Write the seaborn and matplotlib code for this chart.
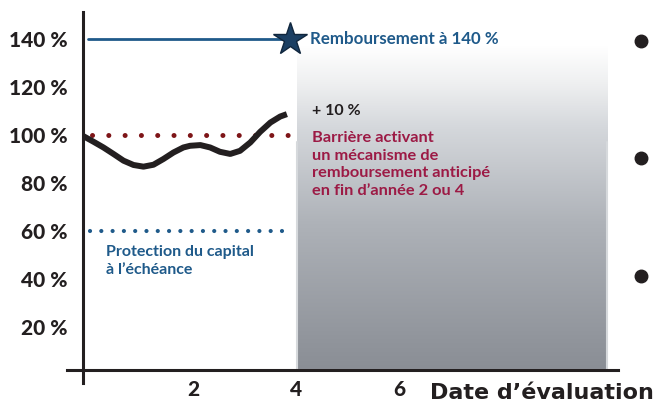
import numpy as np
import pandas as pd
import matplotlib
matplotlib.use("Agg")
import matplotlib.pyplot as plt
from matplotlib.colors import LinearSegmentedColormap
import seaborn as sns

# data
curve_x = [-0.13, 0.064, 0.258, 0.452, 0.647, 0.841, 1.035, 1.229, 1.423, 1.617, 1.81,
           1.94, 2.14, 2.33, 2.52, 2.72, 2.91, 3.11, 3.30, 3.50, 3.69, 3.82]
curve_y = [99.5, 97.2, 94.8, 92.1, 89.3, 87.5, 86.8, 87.6, 90.0, 92.7, 94.8,
           95.5, 95.8, 94.8, 93.0, 92.1, 93.4, 96.9, 101.3, 105.2, 107.7, 108.7]
barriers = {"remb": 140, "rappel": 100, "protection": 60}
dates = [2, 4, 6]
yticks = [20, 40, 60, 80, 100, 120, 140]
ytick_labels = ["20 %", "40 %", "60 %", "80 %", "100 %", "120 %", "140 %"]
zone_x = [4.02, 10.04]
zone_y = [1.8, 137]
bullet_y = [139.2, 90.5, 41.0]

sns.set_style("white")
plt.rcParams["font.family"] = ["Lato", "DejaVu Sans"]

BLUE = "#1f5a8a"
CRIMSON = "#9c1a45"
DOTRED = "#7e1518"
INK = "#231f20"

fig = plt.figure(figsize=(6.55, 4.05), dpi=100)
ax = fig.add_axes([67 / 655, (405 - 383.2) / 405, 551 / 655, 371.7 / 405])
ax.set_xlim(-0.45, 10.25)
ax.set_ylim(-3.5, 151.5)

# gradient zone (years after 4)
cmap = LinearSegmentedColormap.from_list(
    "zone", [(0, "#8a8e95"), (0.12, "#93979e"), (0.45, "#aeb2b8"),
             (0.75, "#d5d8dc"), (0.88, "#eeeff0"), (1.0, "#ffffff")])
grad = np.linspace(0, 1, 256).reshape(-1, 1)
ax.imshow(grad, extent=[zone_x[0], zone_x[1], zone_y[0], zone_y[1]], origin="lower",
          cmap=cmap, aspect="auto", zorder=0)
ax.plot([zone_x[0], zone_x[0], zone_x[1], zone_x[1]],
        [zone_y[1] - 40, zone_y[0], zone_y[0], zone_y[1] - 40],
        color="#d6d9dc", lw=1.5, zorder=1)

# barrier lines
ax.plot([-0.04, 3.8], [barriers["remb"]] * 2, color=BLUE, lw=2, zorder=2)
ax.plot([0.04, 3.9], [barriers["rappel"]] * 2, color=DOTRED, lw=3.6,
        linestyle=(0, (0.01, 3.25)), dash_capstyle="round", zorder=2)
ax.plot([0.0, 3.8], [barriers["protection"]] * 2, color=BLUE, lw=3.0,
        linestyle=(0, (0.01, 2.7)), dash_capstyle="round", zorder=2)

# underlying path
df = pd.DataFrame({"date": curve_x, "niveau": curve_y})
sns.lineplot(data=df, x="date", y="niveau", ax=ax, color=INK, lw=4.3,
             sort=False, solid_capstyle="butt", solid_joinstyle="round", zorder=3)

# star at the autocall level
ax.plot([3.88], [barriers["remb"]], marker="*", markersize=25, color="#1b3f63",
        markeredgecolor="#10263d", zorder=4, clip_on=False)

# bullets on the right
ax.plot([10.7] * len(bullet_y), bullet_y, "o", color=INK, markersize=9, clip_on=False)

# axes styling
for s in ["top", "right"]:
    ax.spines[s].set_visible(False)
ax.spines["left"].set_position(("data", -0.136))
ax.spines["bottom"].set_position(("data", 1.8))
for s in ["left", "bottom"]:
    ax.spines[s].set_linewidth(2.2)
    ax.spines[s].set_color(INK)

ax.set_yticks(yticks)
ax.set_yticklabels(ytick_labels)
ax.set_xticks(dates)
ax.set_xticklabels([str(d) for d in dates])
ax.tick_params(axis="y", direction="in", length=5, width=2, color=INK, pad=11,
               labelsize=15, labelcolor=INK)
ax.tick_params(axis="x", direction="inout", length=9, width=2, color=INK, pad=2,
               labelsize=15, labelcolor=INK)
for lab in ax.get_xticklabels() + ax.get_yticklabels():
    lab.set_fontweight("black")
ax.set_xlabel("")
ax.set_ylabel("")

# annotations
ax.text(4.27, 140, "Remboursement à 140 %", color=BLUE, fontsize=12.2,
        fontweight="bold", va="center", ha="left")
ax.text(4.31, 110, "+ 10 %", color=INK, fontsize=11.5, fontweight="bold",
        va="center", ha="left")
ax.text(4.31, 101.5, "Barrière activant\nun mécanisme de\nremboursement anticipé\nen fin d’année 2 ou 4",
        color=CRIMSON, fontsize=11.8, fontweight="bold", va="top", ha="left",
        linespacing=1.32)
ax.text(0.31, 54, "Protection du capital\nà l’échéance", color=BLUE, fontsize=11.5,
        fontweight="bold", va="top", ha="left", linespacing=1.3)
ax.text(10.95, -7.6, "Date d’évaluation", color=INK, fontsize=16, fontweight="bold",
        family="DejaVu Sans", va="center", ha="right", clip_on=False)

plt.savefig("out.png", dpi=100)
